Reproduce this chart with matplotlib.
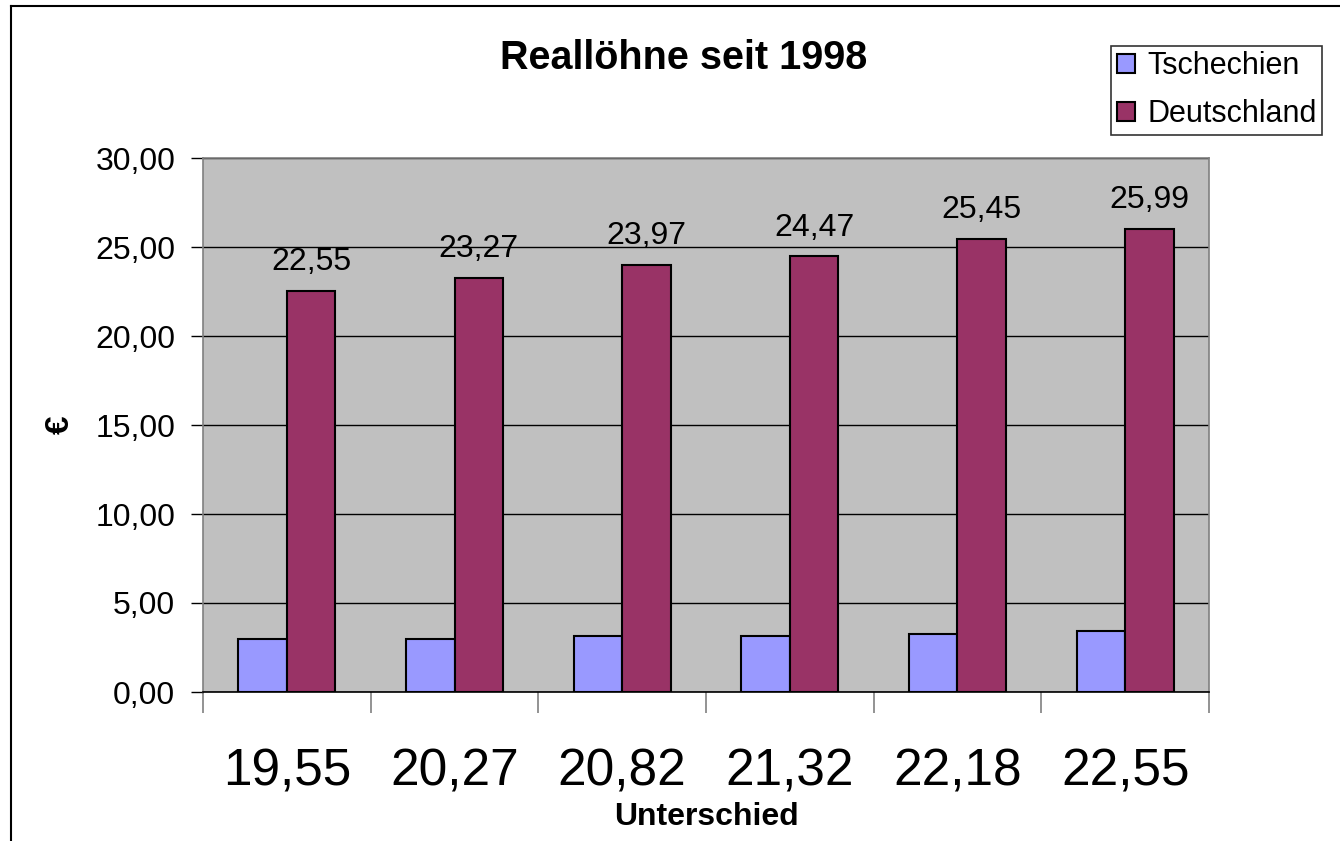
import numpy as np
import matplotlib.pyplot as plt
from matplotlib.lines import Line2D

plt.rcParams['font.family'] = ['Liberation Sans', 'DejaVu Sans']

categories = ["19,55", "20,27", "20,82", "21,32", "22,18", "22,55"]
tschechien = [3.00, 3.00, 3.15, 3.15, 3.27, 3.44]
deutschland = [22.55, 23.27, 23.97, 24.47, 25.45, 25.99]

fig = plt.figure(figsize=(13.4, 8.41), dpi=100)
ax = fig.add_axes([203/1340, 1 - 692/841, (1209-203)/1340, (692-158)/841])
ax.set_facecolor('#C0C0C0')

x = np.arange(len(categories))
w = 0.29
ax.bar(x - w/2, tschechien, w, color='#9999FF', edgecolor='black', linewidth=1.5,
       label='Tschechien', zorder=3)
bars = ax.bar(x + w/2, deutschland, w, color='#993366', edgecolor='black', linewidth=1.5,
              label='Deutschland', zorder=3)

for b, v in zip(bars, deutschland):
    ax.annotate(f"{v:.2f}".replace('.', ','), (b.get_x() + b.get_width()/2, v),
                xytext=(0, 10), textcoords='offset points', ha='center', va='bottom',
                fontsize=23)

ax.set_xlim(-0.5, len(categories) - 0.5)
ax.set_ylim(0, 30)
yt = np.arange(0, 31, 5)
ax.set_yticks(yt)
ax.set_yticklabels([f"{v:.2f}".replace('.', ',') for v in yt], fontsize=23)
ax.yaxis.grid(True, color='black', linewidth=1, zorder=1)
ax.set_axisbelow(True)
ax.tick_params(axis='y', length=9, width=1, pad=11, colors='black')

ax.set_xticks(x)
ax.set_xticklabels(categories, fontsize=37)
ax.set_xticks(np.arange(-0.5, len(categories)), minor=True)
ax.tick_params(axis='x', which='major', length=0, pad=40)
ax.tick_params(axis='x', which='minor', length=15, width=1.2, color='#808080')

for s in ['left', 'right', 'top']:
    ax.spines[s].set_color('#808080')
    ax.spines[s].set_linewidth(1.2)
ax.spines['bottom'].set_color('black')
ax.spines['bottom'].set_linewidth(1.2)

fig.text(60/1340, 1 - 425/841, '€', rotation=90, ha='center', va='center',
         fontsize=24, fontweight='bold')
fig.text(706/1340, 1 - 817/841, 'Unterschied', ha='center', va='center',
         fontsize=23, fontweight='bold')
fig.text(684/1340, 1 - 58/841, 'Reallöhne seit 1998', ha='center', va='center',
         fontsize=28.5, fontweight='bold')

leg = ax.legend(loc='upper left', bbox_to_anchor=(1111/1340, 1 - 46/841),
                bbox_transform=fig.transFigure, fontsize=22, frameon=True,
                fancybox=False, edgecolor='black', handlelength=0.6, handleheight=0.6,
                handletextpad=0.4, borderpad=0.18, labelspacing=0.58, borderaxespad=0)
leg.get_frame().set_linewidth(1.2)

# chart frame
fig.add_artist(Line2D([11/1340, 11/1340], [0, 1 - 6/841], color='black', linewidth=1.5))
fig.add_artist(Line2D([11/1340, 1], [1 - 6/841, 1 - 6/841], color='black', linewidth=1.5))

fig.savefig('out.png', dpi=100)
